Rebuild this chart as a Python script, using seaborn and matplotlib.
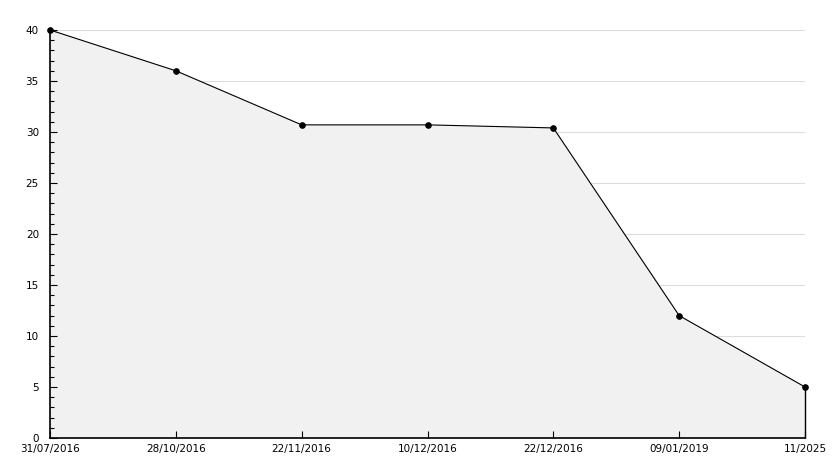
import matplotlib
matplotlib.use("Agg")
import matplotlib.pyplot as plt
import seaborn as sns
import pandas as pd
import numpy as np
from matplotlib.ticker import MultipleLocator

# Datos
fechas = ["31/07/2016", "28/10/2016", "22/11/2016", "10/12/2016",
          "22/12/2016", "09/01/2019", "11/2025"]
valores = [40, 36, 30.7, 30.7, 30.4, 12, 5]

df = pd.DataFrame({"pos": np.arange(len(fechas)), "valor": valores})

sns.set_style("white")
plt.rcParams['font.family'] = ['DejaVu Sans']

fig = plt.figure(figsize=(8.34, 4.68), dpi=100)
ax = fig.add_axes([50 / 834, 1 - 438 / 468, 755 / 834, 408 / 468])

ax.set_xlim(0, len(fechas) - 1)
ax.set_ylim(0, 40)
ax.set_xticks(df["pos"])
ax.set_xticklabels(fechas)
ax.yaxis.set_major_locator(MultipleLocator(5))
ax.yaxis.set_minor_locator(MultipleLocator(1))

# Rejilla horizontal por debajo del relleno
ax.hlines(ax.get_yticks(), 0, len(fechas) - 1, color="#dddddd", linewidth=0.8, zorder=0.2)

# Relleno gris bajo la curva
ax.fill_between(df["pos"], df["valor"], 0, color="#f1f1f1", zorder=0.3)
ax.vlines(df["pos"].iloc[-1], 0, df["valor"].iloc[-1], color="black",
          linewidth=1.0, zorder=3, clip_on=False)

sns.lineplot(data=df, x="pos", y="valor", ax=ax, color="black", linewidth=0.8,
             marker="o", markersize=4, markeredgecolor="black", zorder=4, clip_on=False)

ax.grid(False)
for s in ["top", "right"]:
    ax.spines[s].set_visible(False)
for s in ["left", "bottom"]:
    ax.spines[s].set_color("black")
    ax.spines[s].set_linewidth(1.2)

ax.tick_params(axis="y", which="major", direction="in", length=5, width=0.8,
               labelsize=7.5, pad=8, colors="black", left=True)
ax.tick_params(axis="y", which="minor", direction="in", length=3, width=0.8,
               colors="black", left=True)
ax.tick_params(axis="x", which="major", direction="in", length=5, width=0.8,
               labelsize=7.5, pad=4, colors="black", bottom=True)

ax.set_xlabel("")
ax.set_ylabel("")

fig.savefig("out.png", dpi=100)
